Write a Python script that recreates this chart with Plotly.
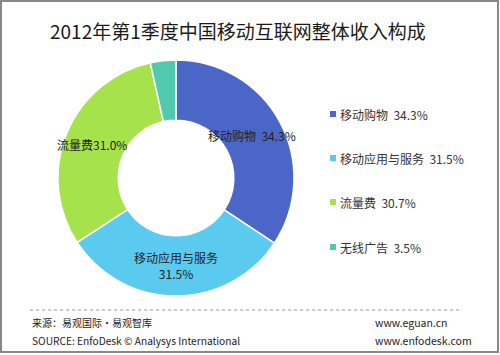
import plotly.graph_objects as go

categories = ["移动购物", "移动应用与服务", "流量费", "无线广告"]
values = [34.3, 31.5, 30.7, 3.5]
legend_pct = ["34.3%", "31.5%", "30.7%", "3.5%"]
slice_labels = ["移动购物  34.3%", "移动应用与服务<br>31.5%", "流量费31.0%", ""]
colors = ["#4B66C7", "#5BCAEF", "#A6E24B", "#50C9AE"]

W, H = 500, 355
FONT = "Noto Sans CJK SC, Microsoft YaHei, sans-serif"

def px(x):
    return x / W

def py(y):
    return 1 - y / H

fig = go.Figure()
fig.add_trace(go.Pie(
    labels=categories, values=values, sort=False, direction="clockwise",
    rotation=0, hole=0.49, textinfo="none", hoverinfo="label+percent",
    marker=dict(colors=colors, line=dict(color="white", width=1.5)),
    domain=dict(x=[px(58), px(294)], y=[py(296), py(60)]),
    showlegend=False,
))

annotations = []
# title
annotations.append(dict(x=px(238), y=py(30), xref="paper", yref="paper",
                        text="2012年第1季度中国移动互联网整体收入构成", showarrow=False,
                        font=dict(family=FONT, size=19, color="#1a1a1a"),
                        xanchor="center", yanchor="middle"))
# slice labels
label_pos = [(252, 136, "center"), (176, 265, "center"), (92, 144, "center")]
for (x, y, anc), txt in zip(label_pos, slice_labels[:3]):
    annotations.append(dict(x=px(x), y=py(y), xref="paper", yref="paper", text=txt,
                            showarrow=False, xanchor=anc, yanchor="middle", align="center",
                            font=dict(family=FONT, size=12, color="#222222")))
# legend
shapes = []
leg_y = [114, 158, 202, 247]
for cat, pct, col, y in zip(categories, legend_pct, colors, leg_y):
    shapes.append(dict(type="rect", xref="paper", yref="paper",
                       x0=px(330), x1=px(336), y0=py(y + 3), y1=py(y - 3),
                       fillcolor=col, line=dict(width=0)))
    annotations.append(dict(x=px(338), y=py(y), xref="paper", yref="paper",
                            text=f"{cat}  {pct}", showarrow=False, xanchor="left",
                            yanchor="middle",
                            font=dict(family=FONT, size=12, color="#333333")))
# footer
shapes.append(dict(type="line", xref="paper", yref="paper", x0=px(30), x1=px(462),
                   y0=py(310), y1=py(310), line=dict(color="#999999", width=1, dash="dot")))
footer = [("来源：易观国际·易观智库", 30, 322, "left", 10),
          ("SOURCE: EnfoDesk © Analysys International", 30, 340, "left", 10.2),
          ("www.eguan.cn", 373, 322, "left", 10.5),
          ("www.enfodesk.com", 373, 340, "left", 10.5)]
for txt, x, y, anc, fs in footer:
    annotations.append(dict(x=px(x), y=py(y), xref="paper", yref="paper", text=txt,
                            showarrow=False, xanchor=anc, yanchor="middle",
                            font=dict(family=FONT, size=fs, color="#222222")))
# border
shapes.append(dict(type="rect", xref="paper", yref="paper", x0=px(1), x1=px(498),
                   y0=py(352), y1=py(1), line=dict(color="#888888", width=2)))

fig.update_layout(width=W, height=H, margin=dict(l=0, r=0, t=0, b=0),
                  paper_bgcolor="white", plot_bgcolor="white",
                  annotations=annotations, shapes=shapes)
fig.write_html("out.html", config={"displayModeBar": False},
               post_script="document.body.style.margin='0';document.body.style.overflow='hidden';")
